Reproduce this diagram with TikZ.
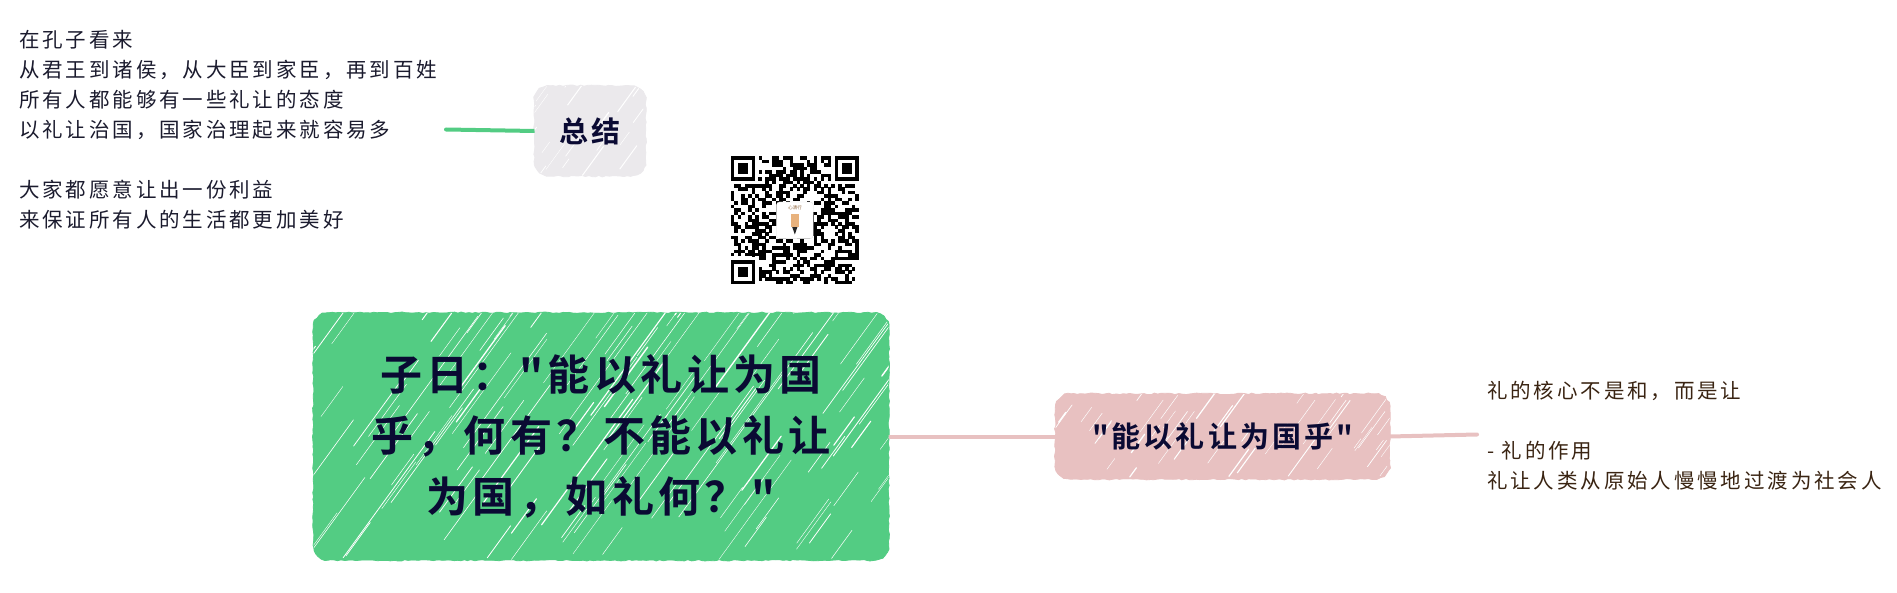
\documentclass[tikz,border=0pt]{standalone}
\usepackage{fontspec}
\usetikzlibrary{decorations.pathmorphing,backgrounds}
\newfontfamily\cjkside[LetterSpace=14]{Noto Sans CJK SC}
\newfontfamily\cjkhead[LetterSpace=10.5]{Noto Sans CJK SC Bold}
\newfontfamily\cjkplain{Noto Sans CJK SC}
\definecolor{ink}{HTML}{0A0A33}
\definecolor{inkside}{HTML}{1B1B2E}
\definecolor{inkbrown}{HTML}{3A2412}
\definecolor{mygreen}{HTML}{53CC83}
\definecolor{mygray}{HTML}{EBE9EC}
\definecolor{mypink}{HTML}{E8C1C1}
\tikzset{
  x=1pt,y=-1pt,
  hatch/.style n args={5}{path picture={
    \pgfmathsetseed{#1}
    \foreach \k in {1,...,#2}{
      \pgfmathsetmacro\px{rnd*(#3+0.3*#4)-0.3*#4}
      \pgfmathsetmacro\py{rnd*#4}
      \pgfmathsetmacro\ll{(0.12+0.8*rnd*rnd)*#5}
      \pgfmathsetmacro\lw{0.35+1.25*rnd*rnd}
      \draw[white,line width=\lw pt,line cap=round]
        ([xshift=\px pt,yshift=\py pt]path picture bounding box.south west) -- ++(54:\ll pt);
    }
  }},
  roughbox/.style={fill=#1,rounded corners=15pt,
    inner sep=0pt,align=center,text=ink},
  roughedge/.style={draw=#1,fill=#1,line width=0.8pt,
    decorate,decoration={random steps,segment length=3.5pt,amplitude=0.8pt}},
  sidetext/.style={anchor=west,align=left,inner sep=0pt,
    font=\cjkside\fontsize{20.5}{30}\selectfont},
  link/.style={draw=#1,line width=4pt,line cap=round},
}
\newcommand{\roughoutline}[2]{%
  \path[roughedge=#2]
    ([xshift=15pt]#1.north west) -- ([xshift=-15pt]#1.north east)
    .. controls ([xshift=-6.7pt]#1.north east) and ([yshift=-6.7pt]#1.north east) .. ([yshift=-15pt]#1.north east)
    -- ([yshift=15pt]#1.south east)
    .. controls ([yshift=6.7pt]#1.south east) and ([xshift=-6.7pt]#1.south east) .. ([xshift=-15pt]#1.south east)
    -- ([xshift=15pt]#1.south west)
    .. controls ([xshift=6.7pt]#1.south west) and ([yshift=6.7pt]#1.south west) .. ([yshift=15pt]#1.south west)
    -- ([yshift=-15pt]#1.north west)
    .. controls ([yshift=-6.7pt]#1.north west) and ([xshift=6.7pt]#1.north west) .. cycle;}
\begin{document}
\begin{tikzpicture}
\useasboundingbox (0,0) rectangle (1897,593);
\pgfmathsetseed{4242}
\node[roughbox=mygreen,minimum width=575pt,minimum height=247pt,
      hatch={11}{135}{575}{247}{270},
      font=\cjkhead\fontsize{42}{61}\selectfont] (main) at (601,436.5)
  {子日："能以礼让为国\\乎，何有？不能以礼让\\为国，如礼何？"};
\node[roughbox=mygray,minimum width=111pt,minimum height=90pt,
      hatch={23}{20}{111}{90}{80},
      font=\cjkhead\fontsize{29}{34}\selectfont] (sum) at (590,131) {总结};
\node[roughbox=mypink,minimum width=334pt,minimum height=85pt,
      hatch={37}{48}{334}{85}{95},
      font=\cjkhead\fontsize{29}{34}\selectfont] (pink) at (1222.5,436.5) {"能以礼让为国乎"};
\node[sidetext,text=inkside] (lefttext) at (19,130)
  {在孔子看来\\从君王到诸侯，从大臣到家臣，再到百姓\\所有人都能够有一些礼让的态度\\以礼让治国，国家治理起来就容易多\\[30pt]大家都愿意让出一份利益\\来保证所有人的生活都更加美好};
\node[sidetext,text=inkbrown] (righttext) at (1487,435.5)
  {礼的核心不是和，而是让\\[30pt]- 礼的作用\\礼让人类从原始人慢慢地过渡为社会人};
\coordinate (lend) at (446,129.5);
\coordinate (rend) at (1477,434.5);
\begin{scope}[on background layer]
  \pgfmathsetseed{77}
  \roughoutline{main}{mygreen}
  \roughoutline{sum}{mygray}
  \roughoutline{pink}{mypink}
  \draw[link=mygreen] (lend) -- (sum.west);
  \draw[link=mypink] (main.east) -- (pink.west);
  \draw[link=mypink] (pink.east) -- (rend);
\end{scope}
% QR code
\node[minimum size=128pt,inner sep=0pt] (qr) at (795,220.5) {};
\begin{scope}[shift={(qr.north west)},x=3.46pt,y=-3.46pt]
  \pgfmathsetseed{1887}
  \foreach \r in {0,...,36}{
    \foreach \c in {0,...,36}{
      \pgfmathparse{rnd>0.5?1:0}
      \ifnum\pgfmathresult=1
        \fill[black] (\c,\r) rectangle (\c+1.03,\r+1.03);
      \fi
    }
  }
  \foreach \ox/\oy in {0/0,29/0,0/29}{
    \fill[white] (\ox-0.1,\oy-0.1) rectangle (\ox+8.1,\oy+8.1);
  }
  \foreach \ox/\oy in {0/0,30/0,0/30}{
    \fill[black] (\ox,\oy) rectangle (\ox+7,\oy+7);
    \fill[white] (\ox+1,\oy+1) rectangle (\ox+6,\oy+6);
    \fill[black] (\ox+2,\oy+2) rectangle (\ox+5,\oy+5);
  }
  \foreach \i in {8,10,...,28}{
    \fill[black] (\i,6) rectangle (\i+1,7);
    \fill[black] (6,\i) rectangle (7,\i+1);
  }
  \fill[white,draw=black!12,line width=0.3pt,rounded corners=3pt] (13.2,13.2) rectangle (23.8,23.8);
  \fill[black!85] (17.7,20.3) -- (19.3,20.3) -- (18.5,22.6) -- cycle;
  \fill[brown!60!orange!60] (17.4,16.6) rectangle (19.6,20.3);
\end{scope}
\node[inner sep=0pt,text=brown!70!black,font=\cjkplain\fontsize{4.5}{5}\selectfont] (logo) at (795,208) {心清行};
\end{tikzpicture}
\end{document}
